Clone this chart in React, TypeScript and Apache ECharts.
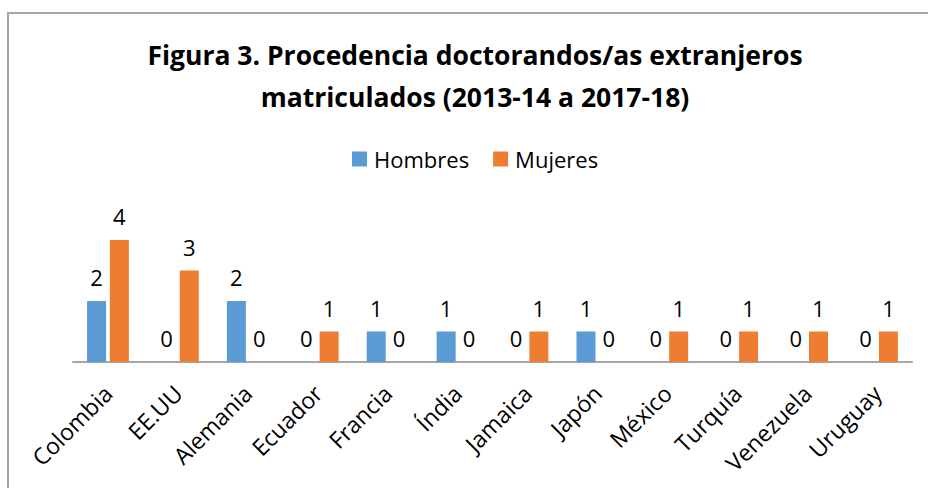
import React, { useEffect, useRef } from "react";
import * as echarts from "echarts";

const categories = ["Colombia", "EE.UU", "Alemania", "Ecuador", "Francia", "Índia", "Jamaica", "Japón", "México", "Turquía", "Venezuela", "Uruguay"];
const hombres = [2, 0, 2, 0, 1, 1, 0, 1, 0, 0, 0, 0];
const mujeres = [4, 3, 0, 1, 0, 0, 1, 0, 1, 1, 1, 1];
const titleText = "Figura 3. Procedencia doctorandos/as extranjeros\nmatriculados (2013-14 a 2017-18)";

const FONT = "'Open Sans', sans-serif";

export default function App() {
  const ref = useRef<HTMLDivElement>(null);
  useEffect(() => {
    if (!ref.current) return;
    const chart = echarts.init(ref.current, null, { renderer: "svg" });
    const label = {
      show: true,
      position: "top",
      distance: 13,
      fontSize: 22,
      color: "#000",
      fontFamily: FONT,
    };
    chart.setOption({
      animation: false,
      backgroundColor: "#fff",
      graphic: [
        {
          type: "rect",
          shape: { x: 8, y: 13, width: 940, height: 500 },
          style: { fill: "none", stroke: "#a6a6a6", lineWidth: 2 },
          silent: true,
        },
      ],
      title: {
        text: titleText,
        left: 470,
        textAlign: "center",
        top: 29,
        textStyle: {
          fontSize: 26.5,
          fontWeight: "bold",
          color: "#000",
          fontFamily: FONT,
          lineHeight: 42,
        },
      },
      legend: {
        top: 143,
        left: 347,
        itemWidth: 15,
        itemHeight: 15,
        itemGap: 24,
        icon: "rect",
        textStyle: { fontSize: 22, color: "#000", fontFamily: FONT, padding: [0, 0, 0, 2] },
        data: ["Hombres", "Mujeres"],
      },
      grid: { left: 73, right: 16, top: 209.5, height: 152.5, containLabel: false },
      xAxis: {
        type: "category",
        data: categories,
        axisLine: { lineStyle: { color: "#a6a6a6", width: 2 } },
        axisTick: { show: false },
        axisLabel: {
          rotate: 45,
          interval: 0,
          fontSize: 23,
          color: "#000",
          margin: 27,
          fontFamily: FONT,
        },
      },
      yAxis: {
        type: "value",
        min: 0,
        max: 5,
        show: false,
        splitLine: { show: false },
      },
      series: [
        {
          name: "Hombres",
          type: "bar",
          data: hombres,
          barWidth: 19,
          barGap: "20%",
          itemStyle: { color: "#5B9BD5" },
          label,
        },
        {
          name: "Mujeres",
          type: "bar",
          data: mujeres,
          barWidth: 19,
          itemStyle: { color: "#ED7D31" },
          label,
        },
      ],
    });
    return () => chart.dispose();
  }, []);
  return (
    <div
      ref={ref}
      style={{ position: "absolute", left: 0, top: 0, width: 928, height: 488 }}
    />
  );
}
